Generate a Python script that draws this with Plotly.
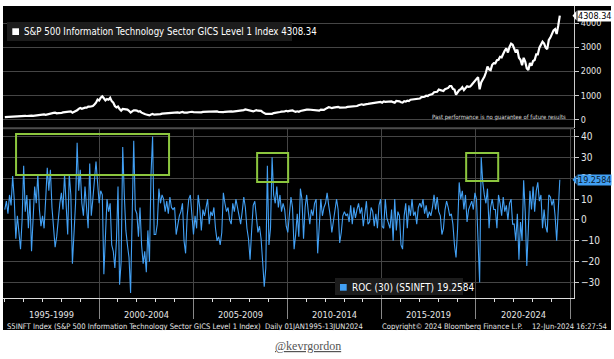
import pandas as pd
import plotly.graph_objects as go

# ---------------- data (monthly samples) ----------------
idx_1995_1999 = [95, 100, 105, 112, 118, 132, 145, 147, 150, 152, 148, 143,
                 148, 150, 145, 160, 165, 160, 150, 158, 170, 175, 195, 190,
                 215, 210, 195, 215, 240, 245, 285, 275, 285, 255, 265, 255,
                 270, 295, 305, 315, 300, 330, 340, 280, 310, 340, 380, 440,
                 480, 445, 480, 490, 490, 530, 530, 550, 560, 620, 700, 830]
idx_2000_2004 = [790, 900, 960, 880, 790, 850, 820, 900, 760, 700, 560, 500,
                 540, 430, 370, 440, 430, 435, 410, 360, 290, 340, 380, 375,
                 370, 325, 340, 285, 270, 225, 205, 200, 170, 205, 230, 200,
                 200, 200, 205, 225, 245, 250, 265, 280, 275, 300, 300, 310,
                 315, 305, 295, 280, 300, 310, 285, 275, 285, 300, 315, 320]
idx_2005_2009 = [305, 300, 290, 280, 300, 295, 315, 310, 310, 305, 325, 325,
                 335, 330, 335, 335, 310, 300, 290, 305, 320, 330, 340, 340,
                 340, 330, 335, 360, 370, 375, 375, 370, 390, 420, 400, 400,
                 350, 330, 335, 365, 385, 365, 355, 360, 305, 255, 230, 230,
                 225, 210, 235, 265, 270, 280, 305, 310, 325, 320, 340, 360]
idx_2010_2014 = [340, 355, 370, 375, 345, 320, 340, 320, 355, 375, 375, 395,
                 410, 415, 410, 420, 410, 400, 405, 380, 370, 410, 405, 400,
                 440, 480, 510, 500, 470, 490, 495, 515, 525, 495, 490, 495,
                 505, 505, 520, 525, 535, 515, 540, 540, 560, 590, 610, 630,
                 610, 640, 640, 645, 655, 675, 680, 700, 695, 710, 740, 730]
idx_2015_2019 = [700, 750, 730, 740, 755, 735, 750, 720, 700, 770, 775, 755,
                 715, 705, 760, 740, 780, 765, 820, 830, 835, 835, 830, 850,
                 870, 930, 930, 945, 985, 975, 1020, 1040, 1060, 1130, 1140, 1150,
                 1240, 1210, 1180, 1180, 1260, 1280, 1310, 1390, 1390, 1270, 1240, 1030,
                 1150, 1220, 1260, 1340, 1225, 1330, 1380, 1355, 1370, 1440, 1520, 1640]
idx_2020_2024 = [1700, 1760, 1250, 1540, 1660, 1770, 1950, 2200, 2080, 2050, 2270, 2340,
                 2330, 2460, 2480, 2600, 2580, 2750, 2860, 2950, 2780, 3010, 3150, 3100,
                 2900, 2780, 2900, 2560, 2480, 2250, 2560, 2400, 2120, 2050, 2340, 2230,
                 2430, 2470, 2700, 2700, 2980, 3110, 3230, 3150, 2980, 2920, 3300, 3400,
                 3550, 3700, 3750, 3550, 3900, 4308.34]

roc_1995_1999 = [5, 9, 3, 12, 7, 21, 10, -9, 2, -6, -14, 0,
                 26, 4, 12, -4, 10, -15, 3, 16, 8, 22, 5, -3,
                 2, -4, 10, 25, 14, 24, 6, -5, -13, -8, 2, 8,
                 13, 5, 22, 10, -7, 22, 12, -21, -8, 8, 37, 14,
                 24, 8, 2, 16, 6, -4, 27, 2, 10, 20, 28, 18]
roc_2000_2004 = [8, 14, 12, -26, -8, 10, 4, 8, -12, -15, -23, -10,
                 16, -31, -20, 35, 12, -5, -12, -18, -35, 10, 38, 5,
                 3, -8, 6, -12, -21, -15, -25, -5, -20, 22, 40, -7,
                 -7, -2, 15, 8, 12, 10, 4, 9, 3, 11, 6, 5,
                 6, -7, -3, 2, 4, 8, -10, -16, 2, 10, 12, 4]
roc_2005_2009 = [-7, 2, -4, 12, 6, -5, 5, 2, 7, 10, -2, 4,
                 2, 6, -4, -10, -8, -12, -6, 13, 8, 4, 6, 0,
                 -2, 8, 4, 10, 6, 2, -2, 4, 11, 6, -4, -9,
                 -19, -5, 7, 9, 2, -6, -3, -9, -20, -32, -23, 26,
                 -12, -4, 30, 12, 8, 16, 6, 12, 4, 8, 5, -3]
roc_2010_2014 = [-6, 4, 11, 6, -14, -7, 3, -8, 15, 10, -9, 6,
                 12, 4, -2, 5, 2, 8, 10, -16, -4, 10, 2, 6,
                 8, 13, 7, 2, -6, -1, 4, 10, 5, -11, -6, 2,
                 4, 2, 3, -1, 7, -2, 6, 1, 5, 8, 3, 6,
                 -3, 2, 9, -2, -1, 6, 4, -3, 3, -4, 7, 10]
roc_2015_2019 = [-3, -4, 10, 1, -2, -4, 5, -10, 10, -5, 4, 2,
                 -12, -14, 2, 8, -4, 7, 2, 10, 2, 4, -2, 6,
                 8, 6, 10, 3, 7, 1, 4, 2, 6, 12, 5, 11,
                 4, 2, -7, -4, 5, 9, 6, 2, 3, -2, -12, -18,
                 -4, 18, 10, 14, 5, 12, -1, 5, 7, 9, 5, 13]
roc_2020_2024 = [10, -7, -30, 30, 18, 12, 8, 15, -4, 6, 10, 5,
                 5, -4, 12, 8, 2, 11, 4, 7, 0, 8, 10, -2,
                 -2, -10, 3, -19, -1, -10, 19, 4, -22, -4, 14, 5,
                 16, 4, 14, 18, 9, 12, -4, 5, -3, -6, 12, 11,
                 7, 10, 2, -10, 9, 19.2584]

period_labels = ["1995-1999", "2000-2004", "2005-2009", "2010-2014", "2015-2019", "2020-2024"]
index_ticks = [0, 1000, 2000, 3000, 4000]
roc_ticks = [-30, -20, -10, 0, 10, 20, 30, 40]

index_vals = idx_1995_1999 + idx_2000_2004 + idx_2005_2009 + idx_2010_2014 + idx_2015_2019 + idx_2020_2024
roc_vals = roc_1995_1999 + roc_2000_2004 + roc_2005_2009 + roc_2010_2014 + roc_2015_2019 + roc_2020_2024
dates = pd.date_range("1995-01-01", "2024-06-13", periods=len(index_vals))
last_index = index_vals[-1]
last_roc = roc_vals[-1]

# ---------------- layout helpers ----------------
W, H = 614, 359
def px(x):
    return x / W
def py(y):
    return 1 - y / H

FONT = "Liberation Sans Narrow, DejaVu Sans Condensed, Liberation Sans"
GRID = "#454545"
TXT = "#e6e6e6"
BLUE = "#42a0f4"
GREEN = "#8cc63e"
XR = ["1994-11-27", "2025-03-15"]

fig = go.Figure()
fig.add_trace(go.Scatter(x=dates, y=index_vals, mode="lines",
                         line=dict(color="white", width=2.2),
                         xaxis="x", yaxis="y", hoverinfo="skip"))
fig.add_trace(go.Scatter(x=dates, y=roc_vals, mode="lines",
                         line=dict(color=BLUE, width=1.1),
                         xaxis="x2", yaxis="y2", hoverinfo="skip"))

sep_ticks = pd.date_range("2000-01-01", "2025-01-01", freq="5YS")

fig.update_layout(
    width=W, height=H, margin=dict(l=0, r=0, t=0, b=0),
    paper_bgcolor="white", plot_bgcolor="black", showlegend=False,
    font=dict(family=FONT, color=TXT),
    xaxis=dict(domain=[px(3), px(574)], range=XR, anchor="y",
               showticklabels=False, showgrid=False, zeroline=False, ticks=""),
    yaxis=dict(domain=[py(128), py(6)], range=[-353, 4710], side="right",
               tickvals=index_ticks, gridcolor=GRID, gridwidth=1, zeroline=False,
               ticks="outside", ticklen=4, tickcolor="#cccccc",
               tickfont=dict(size=9, color=TXT, family=FONT),
               showline=True, linecolor="#cccccc", linewidth=1),
    xaxis2=dict(domain=[px(3), px(574)], range=XR, anchor="y2", matches="x",
                tickvals=sep_ticks, showticklabels=False,
                ticks="outside", ticklen=20, tickcolor="#888888", tickwidth=1,
                showgrid=True, gridcolor=GRID, gridwidth=1, zeroline=False,
                showline=True, linecolor="#dddddd", linewidth=1,
                minor=dict(dtick="M12", tick0="1995-01-01", ticks="outside",
                           ticklen=3, tickcolor="#dddddd", showgrid=False)),
    yaxis2=dict(domain=[py(298), py(129)], range=[-37.4, 43.6], side="right",
                tickvals=roc_ticks, gridcolor=GRID, gridwidth=1, zeroline=False,
                ticks="outside", ticklen=4, tickcolor="#cccccc",
                tickfont=dict(size=10, color=TXT, family=FONT),
                showline=True, linecolor="#cccccc", linewidth=1),
)

shapes = [
    # black Bloomberg canvas
    dict(type="rect", xref="paper", yref="paper", x0=px(3), x1=px(611), y0=py(330), y1=py(6),
         fillcolor="black", line=dict(width=0), layer="below"),
    # panel separator
    dict(type="line", xref="paper", yref="paper", x0=px(3), x1=px(574), y0=py(128.3), y1=py(128.3),
         line=dict(color="#4d4d4d", width=2)),
    # top legend box + swatch
    dict(type="rect", xref="paper", yref="paper", x0=px(7), x1=px(292), y0=py(41), y1=py(22),
         fillcolor="#1c1c1c", line=dict(width=0)),
    dict(type="rect", xref="paper", yref="paper", x0=px(12.3), x1=px(19), y0=py(35), y1=py(28.3),
         fillcolor="white", line=dict(width=0)),
    # bottom legend box + swatch
    dict(type="rect", xref="paper", yref="paper", x0=px(335), x1=px(463), y0=py(295), y1=py(278),
         fillcolor="#1c1c1c", line=dict(width=0)),
    dict(type="rect", xref="paper", yref="paper", x0=px(340), x1=px(346.7), y0=py(290.7), y1=py(284),
         fillcolor=BLUE, line=dict(width=0)),
    # pointers of the last-value tags
    dict(type="path", xref="paper", yref="y",
         path=f"M {px(572.5)} {last_index} L {px(576.5)} {last_index + 200} L {px(576.5)} {last_index - 200} Z",
         fillcolor="white", line=dict(width=0)),
    dict(type="path", xref="paper", yref="y2",
         path=f"M {px(572.5)} {last_roc} L {px(576.5)} {last_roc + 2.2} L {px(576.5)} {last_roc - 2.2} Z",
         fillcolor=BLUE, line=dict(width=0)),
    # green highlight boxes
    dict(type="rect", xref="x2", yref="y2", x0="1995-08-07", x1="2003-09-19", y0=21.6, y1=41.2,
         line=dict(color=GREEN, width=2)),
    dict(type="rect", xref="x2", yref="y2", x0="2008-05-22", x1="2010-01-13", y0=18.2, y1=32.1,
         line=dict(color=GREEN, width=2)),
    dict(type="rect", xref="x2", yref="y2", x0="2019-06-25", x1="2021-03-07", y0=18.7, y1=32.1,
         line=dict(color=GREEN, width=2)),
]

annotations = [
    dict(text="S&P 500 Information Technology Sector GICS Level 1 Index 4308.34",
         xref="paper", yref="paper", x=px(21.5), y=py(31.5), xanchor="left", yanchor="middle",
         showarrow=False, font=dict(size=9.6, color="white", family=FONT)),
    dict(text="ROC (30) (S5INFT) 19.2584",
         xref="paper", yref="paper", x=px(349.5), y=py(287), xanchor="left", yanchor="middle",
         showarrow=False, font=dict(size=10, color="white", family=FONT)),
    dict(text="Past performance is no guarantee of future results",
         xref="paper", yref="paper", x=px(568), y=py(118), xanchor="right", yanchor="middle",
         showarrow=False, font=dict(size=5.9, color="#dddddd", family=FONT)),
    dict(text="4308.34", xref="paper", yref="y", x=px(576.5), y=last_index,
         xanchor="left", yanchor="middle", showarrow=False, bgcolor="white", borderpad=0,
         font=dict(size=9, color="black", family=FONT)),
    dict(text="19.2584", xref="paper", yref="y2", x=px(576.5), y=last_roc,
         xanchor="left", yanchor="middle", showarrow=False, bgcolor=BLUE, borderpad=0,
         font=dict(size=9, color="#0b1b2b", family=FONT)),
    dict(text="S5INFT Index (S&P 500 Information Technology Sector GICS Level 1 Index)  Daily 01JAN1995-13JUN2024",
         xref="paper", yref="paper", x=px(5), y=py(326), xanchor="left", yanchor="middle",
         showarrow=False, font=dict(size=7.6, color=TXT, family=FONT)),
    dict(text="Copyright© 2024 Bloomberg Finance L.P.",
         xref="paper", yref="paper", x=px(380), y=py(326), xanchor="left", yanchor="middle",
         showarrow=False, font=dict(size=7.6, color=TXT, family=FONT)),
    dict(text="12-Jun-2024 16:27:54",
         xref="paper", yref="paper", x=px(609), y=py(326), xanchor="right", yanchor="middle",
         showarrow=False, font=dict(size=7.6, color=TXT, family=FONT)),
    dict(text="<u>@kevrgordon</u>",
         xref="paper", yref="paper", x=px(308), y=py(346), xanchor="center", yanchor="middle",
         showarrow=False, font=dict(size=12, color="#555555", family="Liberation Serif")),
]
for i, lab in enumerate(period_labels):
    mid = pd.Timestamp("1995-01-01") + pd.DateOffset(years=5 * i, months=30)
    annotations.append(dict(text=lab, xref="x2", yref="paper", x=mid, y=py(314),
                            xanchor="center", yanchor="middle", showarrow=False,
                            font=dict(size=9.2, color=TXT, family=FONT)))

fig.update_layout(shapes=shapes, annotations=annotations)
fig.write_html("out.html", config={"displayModeBar": False},
               post_script="document.body.style.margin='0';document.body.style.padding='0';")
